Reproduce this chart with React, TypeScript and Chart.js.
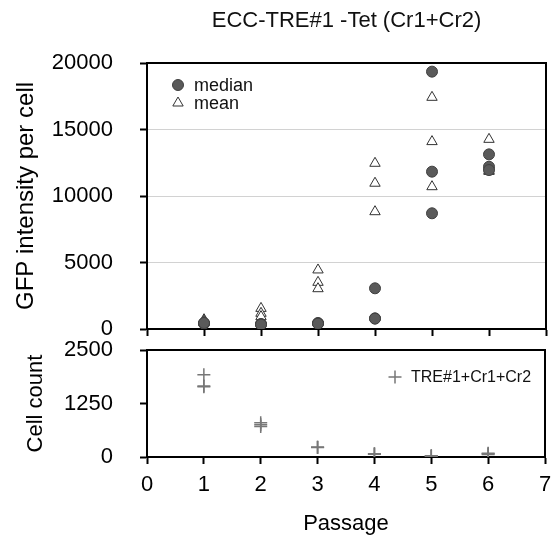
import React, { useEffect, useRef } from 'react';
import { Chart, registerables } from 'chart.js';

Chart.register(...registerables);

const FONT = "'Liberation Sans', Arial, Helvetica, sans-serif";

// Passage numbers and three replicate runs per passage
const passages = [1, 2, 3, 4, 5, 6];
const medianRunA = [430, 380, 450, 3060, 19350, 13130];
const medianRunB = [400, 350, 420, 800, 11830, 12200];
const medianRunC = [450, 330, 400, 780, 8700, 11950];
const meanRunA = [700, 1550, 4440, 12460, 17420, 14260];
const meanRunB = [600, 1180, 3510, 10960, 14090, 11850];
const meanRunC = [520, 930, 3030, 8820, 10700, 11900];
const cellCountA = [1920, 800, 230, 70, 25, 90];
const cellCountB = [1640, 755, 220, 65, 20, 60];
const cellCountC = [1660, 710, 225, 75, 30, 75];

// Axis ticks
const gfpTicks = [0, 5000, 10000, 15000, 20000];
const countTicks = [0, 1250, 2500];
const passageTicks = [0, 1, 2, 3, 4, 5, 6, 7];

const TITLE = 'ECC-TRE#1 -Tet (Cr1+Cr2)';

const toPoints = (...runs: number[][]) =>
  runs.flatMap((run) => passages.map((p, i) => ({ x: p, y: run[i] })));

const setTicks = (values: number[]) => (scale: any) => {
  scale.ticks = values.map((v) => ({ value: v }));
};

const plainLabel = (v: any) => String(v);

// Keep the plotting area fixed regardless of tick-label overhang
const fixWidth = (w: number) => (s: any) => {
  s.width = w;
  s.paddingTop = 0;
  s.paddingBottom = 0;
  s.paddingLeft = 0;
  s.paddingRight = 0;
};
const fixHeight = (h: number) => (s: any) => {
  s.height = h;
  s.paddingTop = 0;
  s.paddingBottom = 0;
  s.paddingLeft = 0;
  s.paddingRight = 0;
};

const CIRCLE = { fill: '#5a5a5a', stroke: '#404040', r: 5.5 };
const TRI = { fill: '#ffffff', stroke: '#333333', r: 6 };
const CROSS = { stroke: '#777777', r: 6.5 };

function drawMarker(ctx: CanvasRenderingContext2D, kind: string, x: number, y: number) {
  ctx.save();
  ctx.beginPath();
  if (kind === 'circle') {
    ctx.arc(x, y, CIRCLE.r, 0, Math.PI * 2);
    ctx.fillStyle = CIRCLE.fill;
    ctx.strokeStyle = CIRCLE.stroke;
    ctx.lineWidth = 1;
    ctx.fill();
    ctx.stroke();
  } else if (kind === 'triangle') {
    let a = 0;
    ctx.moveTo(x + Math.sin(a) * TRI.r, y - Math.cos(a) * TRI.r);
    a += (2 * Math.PI) / 3;
    ctx.lineTo(x + Math.sin(a) * TRI.r, y - Math.cos(a) * TRI.r);
    a += (2 * Math.PI) / 3;
    ctx.lineTo(x + Math.sin(a) * TRI.r, y - Math.cos(a) * TRI.r);
    ctx.closePath();
    ctx.fillStyle = TRI.fill;
    ctx.strokeStyle = TRI.stroke;
    ctx.lineWidth = 1;
    ctx.fill();
    ctx.stroke();
  } else {
    ctx.moveTo(x - CROSS.r, y);
    ctx.lineTo(x + CROSS.r, y);
    ctx.moveTo(x, y - CROSS.r);
    ctx.lineTo(x, y + CROSS.r);
    ctx.strokeStyle = CROSS.stroke;
    ctx.lineWidth = 1.5;
    ctx.stroke();
  }
  ctx.restore();
}

// Closed black frame around the plotting area
const framePlugin = {
  id: 'frame',
  beforeDatasetsDraw(chart: any) {
    const { ctx, chartArea: a } = chart;
    ctx.save();
    ctx.strokeStyle = '#000';
    ctx.lineWidth = 2;
    ctx.strokeRect(a.left, a.top, a.right - a.left, a.bottom - a.top);
    ctx.restore();
  },
};

// Inset legend drawn inside the plotting area
const makeLegend = (
  id: string,
  entries: { kind: string; label: string }[],
  dx: number,
  dy: number,
  size: number,
  rowGap: number
) => ({
  id,
  afterDraw(chart: any) {
    const { ctx, chartArea: a } = chart;
    ctx.save();
    ctx.font = `${size}px ${FONT}`;
    ctx.fillStyle = '#111';
    ctx.textBaseline = 'middle';
    ctx.textAlign = 'left';
    entries.forEach((e, i) => {
      const x = a.left + dx;
      const y = a.top + dy + i * rowGap;
      drawMarker(ctx, e.kind, x, y);
      ctx.fillText(e.label, x + 16, y + 1);
    });
    ctx.restore();
  },
});

const axisBorder = { display: true, color: '#000', width: 2 };

export default function App() {
  const topRef = useRef<HTMLCanvasElement | null>(null);
  const bottomRef = useRef<HTMLCanvasElement | null>(null);

  useEffect(() => {
    Chart.defaults.font.family = FONT;
    Chart.defaults.color = '#000';

    const top = new Chart(topRef.current as HTMLCanvasElement, {
      type: 'scatter',
      data: {
        datasets: [
          {
            label: 'median',
            data: toPoints(medianRunA, medianRunB, medianRunC),
            pointStyle: 'circle',
            pointRadius: CIRCLE.r,
            backgroundColor: CIRCLE.fill,
            borderColor: CIRCLE.stroke,
            borderWidth: 1,
          },
          {
            label: 'mean',
            data: toPoints(meanRunA, meanRunB, meanRunC),
            pointStyle: 'triangle',
            pointRadius: TRI.r,
            backgroundColor: TRI.fill,
            borderColor: TRI.stroke,
            borderWidth: 1,
          },
        ],
      },
      options: {
        responsive: false,
        animation: false,
        events: [],
        layout: { padding: { left: 0, right: 7, top: 0, bottom: 0 } },
        plugins: {
          legend: { display: false },
          tooltip: { enabled: false },
          title: {
            display: true,
            text: TITLE,
            fullSize: false,
            color: '#111',
            font: { size: 22, weight: 'normal' },
            padding: { top: 8, bottom: 28.6 },
          },
        },
        scales: {
          x: {
            type: 'linear',
            min: 0,
            max: 7,
            afterBuildTicks: setTicks(passageTicks),
            afterFit: fixHeight(31),
            ticks: { display: false },
            grid: {
              drawOnChartArea: false,
              drawTicks: true,
              tickLength: 7,
              tickWidth: 2,
              tickColor: '#000',
            },
            border: axisBorder,
          },
          y: {
            type: 'linear',
            min: 0,
            max: 20000,
            afterBuildTicks: setTicks(gfpTicks),
            afterFit: fixWidth(147),
            ticks: { color: '#000', padding: 27, font: { size: 22 }, callback: plainLabel },
            grid: {
              color: (c: any) =>
                c.tick && (c.tick.value === 0 || c.tick.value === 20000)
                  ? 'rgba(0,0,0,0)'
                  : '#d2d2d2',
              lineWidth: 1,
              tickLength: 7,
              tickWidth: 2,
              tickColor: '#000',
            },
            border: axisBorder,
            title: {
              display: true,
              text: 'GFP intensity per cell',
              color: '#000',
              font: { size: 24 },
              padding: { top: 12, bottom: 0 },
            },
          },
        },
      },
      plugins: [
        framePlugin,
        makeLegend(
          'gfpLegend',
          [
            { kind: 'circle', label: 'median' },
            { kind: 'triangle', label: 'mean' },
          ],
          31,
          22,
          18,
          18
        ),
      ],
    } as any);

    const bottom = new Chart(bottomRef.current as HTMLCanvasElement, {
      type: 'scatter',
      data: {
        datasets: [
          {
            label: 'TRE#1+Cr1+Cr2',
            data: toPoints(cellCountA, cellCountB, cellCountC),
            pointStyle: 'cross',
            pointRadius: CROSS.r,
            borderColor: CROSS.stroke,
            backgroundColor: CROSS.stroke,
            borderWidth: 1.5,
          },
        ],
      },
      options: {
        responsive: false,
        animation: false,
        events: [],
        layout: { padding: { left: 0, right: 7, top: 50, bottom: 0 } },
        plugins: {
          legend: { display: false },
          tooltip: { enabled: false },
        },
        scales: {
          x: {
            type: 'linear',
            min: 0,
            max: 7,
            afterBuildTicks: setTicks(passageTicks),
            afterFit: fixHeight(80),
            ticks: { color: '#000', padding: 8, font: { size: 22 }, callback: plainLabel },
            grid: {
              drawOnChartArea: false,
              drawTicks: true,
              tickLength: 7,
              tickWidth: 2,
              tickColor: '#000',
            },
            border: axisBorder,
            title: {
              display: true,
              text: 'Passage',
              color: '#000',
              font: { size: 22 },
              padding: { top: 0, bottom: 0 },
            },
          },
          y: {
            type: 'linear',
            min: 0,
            max: 2500,
            afterBuildTicks: setTicks(countTicks),
            afterFit: fixWidth(147),
            ticks: { color: '#000', padding: 27, font: { size: 22 }, callback: plainLabel },
            grid: {
              drawOnChartArea: false,
              tickLength: 7,
              tickWidth: 2,
              tickColor: '#000',
            },
            border: axisBorder,
            title: {
              display: true,
              text: 'Cell count',
              color: '#000',
              font: { size: 22 },
              padding: { top: 23, bottom: 0 },
            },
          },
        },
      },
      plugins: [
        framePlugin,
        makeLegend('countLegend', [{ kind: 'cross', label: 'TRE#1+Cr1+Cr2' }], 248, 27, 16, 18),
      ],
    } as any);

    return () => {
      top.destroy();
      bottom.destroy();
    };
  }, []);

  return (
    <div
      style={{
        position: 'absolute',
        left: 0,
        top: 0,
        width: 553,
        height: 537,
        background: '#fff',
        overflow: 'hidden',
      }}
    >
      <canvas
        ref={topRef}
        width={553}
        height={360}
        style={{ position: 'absolute', left: 0, top: 0, width: 553, height: 360 }}
      />
      <canvas
        ref={bottomRef}
        width={553}
        height={237}
        style={{ position: 'absolute', left: 0, top: 300, width: 553, height: 237 }}
      />
    </div>
  );
}
